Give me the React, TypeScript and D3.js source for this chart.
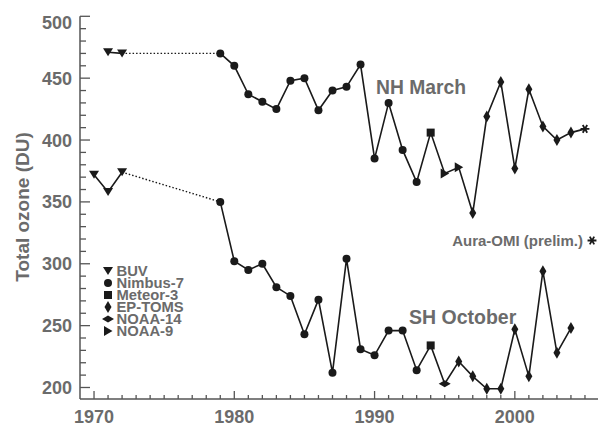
import React from "react";
import * as d3 from "d3";

const nhYears = [1971, 1972, 1979, 1980, 1981, 1982, 1983, 1984, 1985, 1986, 1987, 1988, 1989, 1990, 1991, 1992, 1993, 1994, 1995, 1996, 1997, 1998, 1999, 2000, 2001, 2002, 2003, 2004, 2005];
const nhValues = [471, 470, 470, 460, 437, 431, 425, 448, 450, 424, 440, 443, 461, 385, 430, 392, 366, 406, 373, 378, 341, 419, 447, 377, 441, 411, 400, 406, 409];
const nhInstr = ["BUV", "BUV", "N7", "N7", "N7", "N7", "N7", "N7", "N7", "N7", "N7", "N7", "N7", "N7", "N7", "N7", "N7", "M3", "N9", "N9", "EP", "EP", "EP", "EP", "EP", "EP", "EP", "EP", "OMI"];

const shYears = [1970, 1971, 1972, 1979, 1980, 1981, 1982, 1983, 1984, 1985, 1986, 1987, 1988, 1989, 1990, 1991, 1992, 1993, 1994, 1995, 1996, 1997, 1998, 1999, 2000, 2001, 2002, 2003, 2004];
const shValues = [372, 358, 374, 350, 302, 295, 300, 281, 274, 243, 271, 212, 304, 231, 226, 246, 246, 214, 234, 203, 221, 209, 199, 199, 247, 209, 294, 228, 248];
const shInstr = ["BUV", "BUV", "BUV", "N7", "N7", "N7", "N7", "N7", "N7", "N7", "N7", "N7", "N7", "N7", "N7", "N7", "N7", "N7", "M3", "N14", "EP", "EP", "EP", "EP", "EP", "EP", "EP", "EP", "EP"];

const legendKeys = ["BUV", "N7", "M3", "EP", "N14", "N9"];
const legendLabels = ["BUV", "Nimbus-7", "Meteor-3", "EP-TOMS", "NOAA-14", "NOAA-9"];
const yTickValues = [200, 250, 300, 350, 400, 450, 500];
const xTickValues = [1970, 1980, 1990, 2000];

const W = 598, H = 425;
const x = d3.scaleLinear().domain([1969, 2006]).range([80, 599]);
const y = d3.scaleLinear().domain([190.7, 500]).range([399, 16.3]);

const TXT = "#6b6b6b";
const AX = "#555";
const INK = "#1a1a1a";
const FONT = "'Liberation Sans', Arial, Helvetica, sans-serif";

function Marker({ k, cx, cy }: { k: string; cx: number; cy: number }) {
  switch (k) {
    case "BUV":
      return <path d={`M${cx - 5},${cy - 4} L${cx + 5},${cy - 4} L${cx},${cy + 4} Z`} fill={INK} />;
    case "N7":
      return <circle cx={cx} cy={cy} r={4} fill={INK} />;
    case "M3":
      return <rect x={cx - 4} y={cy - 4} width={8} height={8} fill={INK} />;
    case "EP":
      return <path d={`M${cx},${cy - 6} L${cx + 3.5},${cy} L${cx},${cy + 6} L${cx - 3.5},${cy} Z`} fill={INK} />;
    case "N14":
      return <path d={`M${cx - 6},${cy} L${cx},${cy - 3.5} L${cx + 6},${cy} L${cx},${cy + 3.5} Z`} fill={INK} />;
    case "N9":
      return <path d={`M${cx - 4},${cy - 5} L${cx + 4.5},${cy} L${cx - 4},${cy + 5} Z`} fill={INK} />;
    case "OMI": {
      const s = d3.symbol().type(d3.symbolAsterisk).size(55)();
      return <path d={s || ""} transform={`translate(${cx},${cy}) rotate(90)`} fill="none" stroke={INK} strokeWidth={1.8} />;
    }
    default:
      return null;
  }
}

function Series({ years, values, instr }: { years: number[]; values: number[]; instr: string[] }) {
  const line = d3.line<number>().x((i) => x(years[i])).y((i) => y(values[i]));
  const idx = years.map((_, i) => i);
  const gapStart = years.indexOf(1972);
  const gapEnd = years.indexOf(1979);
  const seg1 = idx.slice(0, gapStart + 1);
  const seg2 = [gapStart, gapEnd];
  const seg3 = idx.slice(gapEnd);
  return (
    <g>
      <path d={line(seg1) || ""} fill="none" stroke={INK} strokeWidth={1.6} />
      <path d={line(seg2) || ""} fill="none" stroke={INK} strokeWidth={1.4} strokeDasharray="1.5,2" />
      <path d={line(seg3) || ""} fill="none" stroke={INK} strokeWidth={1.6} />
      {idx.map((i) => (
        <Marker key={i} k={instr[i]} cx={x(years[i])} cy={y(values[i])} />
      ))}
    </g>
  );
}

export default function App() {
  const yMinor = d3.range(200, 501, 10);
  const xMinor = d3.range(1970, 2007, 1);
  return (
    <svg width={W} height={H} style={{ position: "absolute", left: 0, top: 0, background: "#fff" }} fontFamily={FONT}>
      <rect width={W} height={H} fill="#fff" />
      <line x1={80} x2={80} y1={y(500)} y2={399} stroke={AX} strokeWidth={1.5} />
      <line x1={80} x2={W} y1={399} y2={399} stroke={AX} strokeWidth={1.5} />
      {yMinor.map((v) => (
        <line key={"ym" + v} x1={80} x2={80 + (v % 50 === 0 ? 10 : 6)} y1={y(v)} y2={y(v)} stroke={AX} strokeWidth={1.3} />
      ))}
      {xMinor.map((v) => (
        <line key={"xm" + v} x1={x(v)} x2={x(v)} y1={399} y2={399 - (v % 10 === 0 ? 8 : 4)} stroke={AX} strokeWidth={1.3} />
      ))}
      {yTickValues.map((v) => (
        <text key={"yl" + v} x={72} y={(v === 500 ? y(v) + 6 : y(v))} dy="0.36em" textAnchor="end" fontSize={18} fontWeight="bold" fill={TXT}>
          {v}
        </text>
      ))}
      {xTickValues.map((v) => (
        <text key={"xl" + v} x={x(v)} y={422.5} textAnchor="middle" fontSize={18} fontWeight="bold" fill={TXT}>
          {v}
        </text>
      ))}
      <text transform="translate(29,207) rotate(-90)" textAnchor="middle" fontSize={19} fontWeight="bold" fill={TXT}>
        Total ozone (DU)
      </text>

      <Series years={nhYears} values={nhValues} instr={nhInstr} />
      <Series years={shYears} values={shValues} instr={shInstr} />

      <text x={376} y={94} fontSize={19.3} fontWeight="bold" fill={TXT}>NH March</text>
      <text x={409} y={324} fontSize={19.5} fontWeight="bold" fill={TXT}>SH October</text>
      <text x={583} y={245.5} textAnchor="end" fontSize={15} fontWeight="bold" fill={TXT}>Aura-OMI (prelim.)</text>
      <Marker k="OMI" cx={592} cy={240.5} />

      {legendKeys.map((k, i) => (
        <g key={k}>
          <Marker k={k} cx={108} cy={271 + i * 12} />
          <text x={116.5} y={271 + i * 12} dy="0.36em" fontSize={14.8} fontWeight="bold" fill={TXT}>
            {legendLabels[i]}
          </text>
        </g>
      ))}
    </svg>
  );
}
